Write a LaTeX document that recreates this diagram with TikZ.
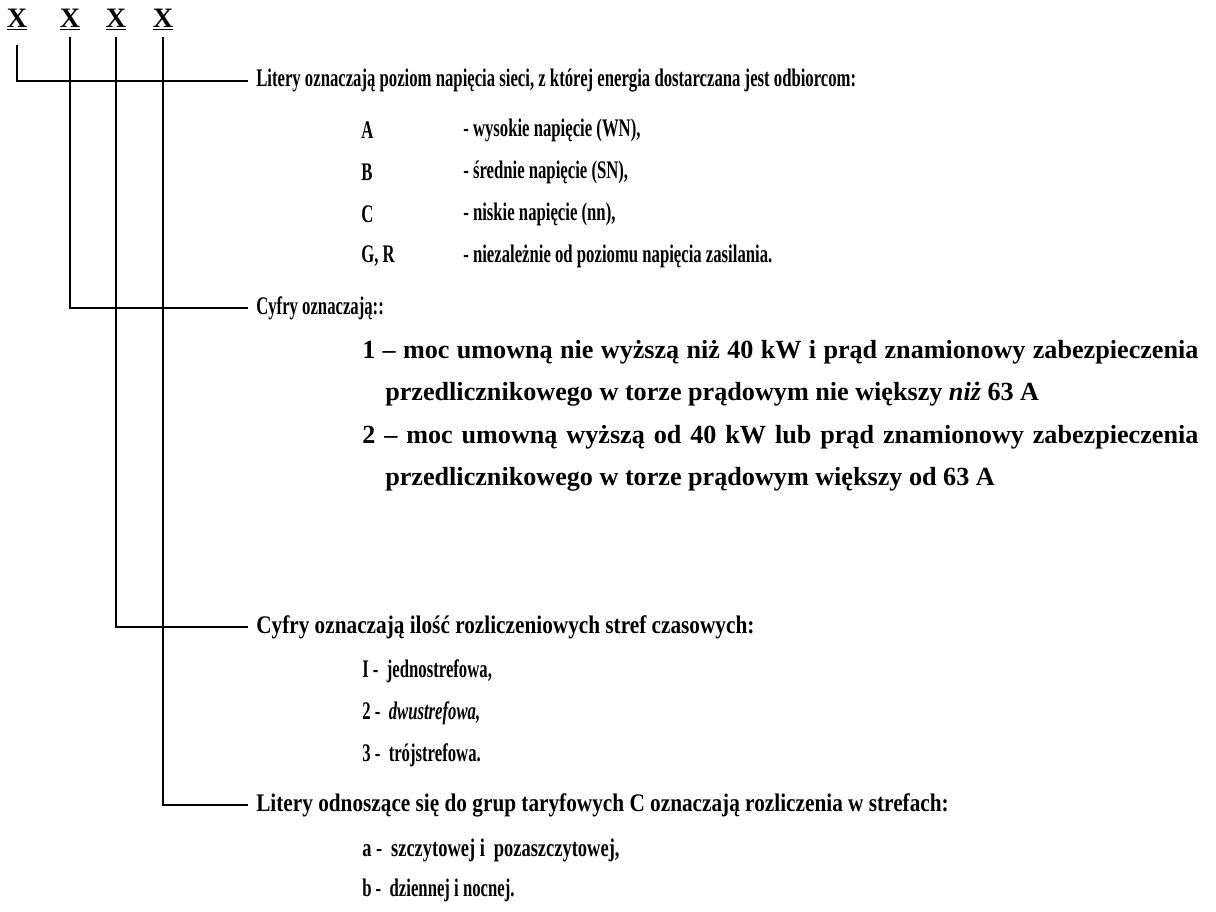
\documentclass[tikz,border=0pt]{standalone}
\usepackage{fontspec}
\setmainfont{Liberation Serif}
\newfontfamily\narrowfont[FakeStretch=0.66]{Liberation Serif}
\newfontfamily\midfont[FakeStretch=0.73]{Liberation Serif}
\newfontfamily\widefont[FakeStretch=0.84]{Liberation Serif}
\usepackage{tikz}

\begin{document}
\begin{tikzpicture}[x=0.025cm,y=-0.025cm,
    txt/.style={anchor=west,inner sep=0pt,font=\fontsize{18}{21}\narrowfont\bfseries},
    txtmid/.style={txt,font=\fontsize{18}{21}\midfont\bfseries},
    txtwide/.style={txt,font=\fontsize{18}{21}\widefont\bfseries},
    par/.style={anchor=west,inner sep=0pt,font=\fontsize{18.6}{21}\selectfont\bfseries},
    xsym/.style={inner sep=0pt,font=\fontsize{20}{22}\selectfont\bfseries},
    lead/.style={line width=1.5pt,shorten >=0.2cm}]
    \useasboundingbox (0,0) rectangle (1216,912);

    % The four code letters
    \node[xsym] (x1) at (17,20) {\underline{X}};
    \node[xsym] (x2) at (70,20) {\underline{X}};
    \node[xsym] (x3) at (116,20) {\underline{X}};
    \node[xsym] (x4) at (163,20) {\underline{X}};

    % Headings of the four groups
    \node[txt] (t1) at (256,81) {Litery oznaczają poziom napięcia sieci, z której energia dostarczana jest odbiorcom:};
    \node[txt] (t2) at (256,308) {Cyfry oznaczają::};
    \node[txtwide] (t3) at (256,627) {Cyfry oznaczają ilość rozliczeniowych stref czasowych:};
    \node[txtwide] (t4) at (256,805) {Litery odnoszące się do grup taryfowych C oznaczają rozliczenia w strefach:};

    % Leader lines
    \draw[lead,shorten <=0.35cm] (x1.south) |- (t1.west);
    \draw[lead,shorten <=0.15cm] (x2.south) |- (t2.west);
    \draw[lead,shorten <=0.15cm] (x3.south) |- (t3.west);
    \draw[lead,shorten <=0.15cm] (x4.south) |- (t4.west);

    % Voltage levels
    \node[txt] (ka) at (361,130) {A};
    \node[txt] (da) at (463,130) {- wysokie napięcie (WN),};
    \node[txt] (kb) at (361,172) {B};
    \node[txt] (db) at (463,172) {- średnie napięcie (SN),};
    \node[txt] (kc) at (361,214) {C};
    \node[txt] (dc) at (463,214) {- niskie napięcie (nn),};
    \node[txt] (kg) at (361,256) {G, R};
    \node[txt] (dg) at (463,256) {- niezależnie od poziomu napięcia zasilania.};

    % Contracted power
    \node[par] (p1) at (362,352) {\makebox[20.9cm][s]{1 – moc umowną nie wyższą niż 40 kW i prąd znamionowy zabezpieczenia}};
    \node[par] (p1b) at (385,394) {przedlicznikowego w torze prądowym nie większy \textit{niż} 63 A};
    \node[par] (p2) at (362,437) {\makebox[20.9cm][s]{2 – moc umowną wyższą od 40 kW lub prąd znamionowy zabezpieczenia}};
    \node[par] (p2b) at (385,479) {przedlicznikowego w torze prądowym większy od 63 A};

    % Time zones
    \node[txt] (s1) at (362,671) {I -\, jednostrefowa,};
    \node[txt] (s2) at (362,713) {2 -\, \textit{dwustrefowa,}};
    \node[txt] (s3) at (362,755) {3 -\, trójstrefowa.};

    % Tariff zones
    \node[txtmid] (za) at (362,850) {a -\, szczytowej i\, pozaszczytowej,};
    \node[txt] (zb) at (362,890) {b -\, dziennej i nocnej.};
\end{tikzpicture}
\end{document}
